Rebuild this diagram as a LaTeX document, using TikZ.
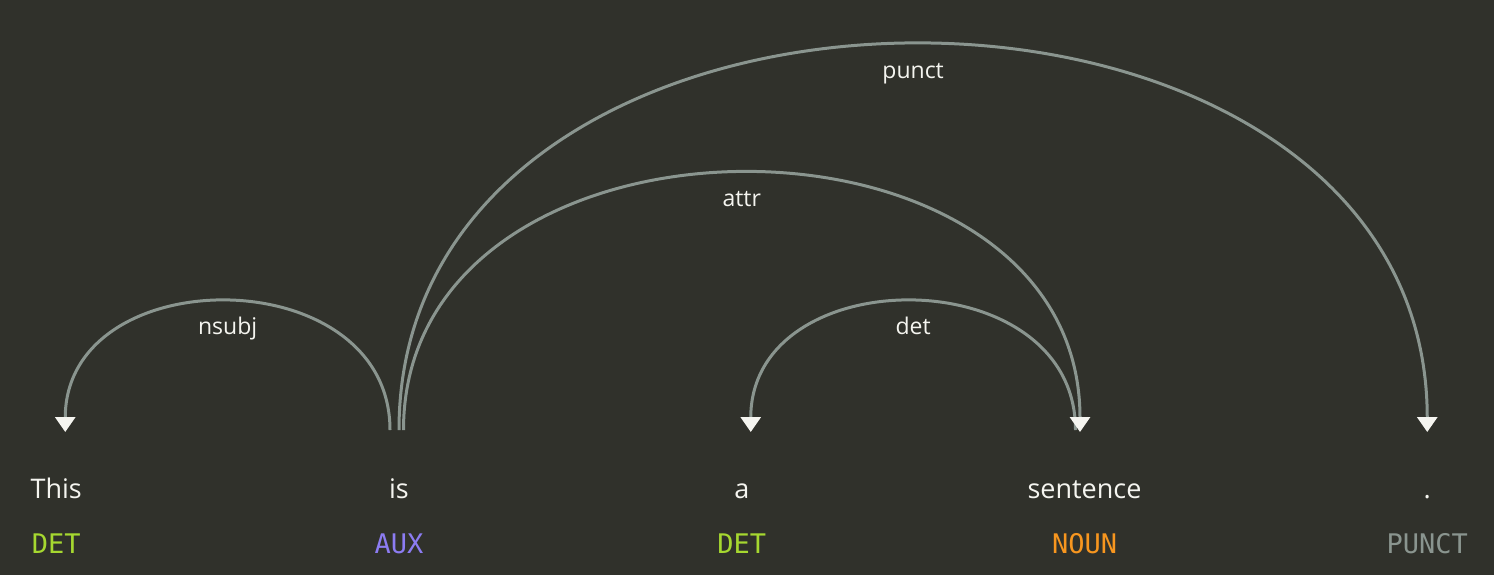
\documentclass[tikz,border=0pt]{standalone}
\usepackage{fontspec}
\setmainfont{Open Sans}
\setmonofont{DejaVu Sans Mono}
\usetikzlibrary{arrows.meta}
\definecolor{bgdark}{HTML}{30312B}
\definecolor{arcgray}{HTML}{8A958F}
\definecolor{inkwhite}{HTML}{F5F5F0}
\definecolor{posdet}{HTML}{A6D830}
\definecolor{posaux}{HTML}{8C7CF2}
\definecolor{posnoun}{HTML}{F7961F}
\definecolor{pospunct}{HTML}{8A958F}
\begin{document}
\begin{tikzpicture}[x=0.5pt,y=-0.5pt,
    word/.style={text=inkwhite,font=\fontsize{13.5}{16}\selectfont,inner sep=0pt,anchor=base},
    postag/.style={font=\ttfamily\fontsize{13.5}{16}\selectfont,inner sep=0pt,anchor=base},
    deplabel/.style={text=inkwhite,font=\fontsize{11.5}{14}\selectfont,inner sep=0pt,anchor=base},
    deparc/.style={draw=arcgray,line width=1.5pt},
    >={Triangle[width=10pt,length=7.5pt,fill=inkwhite,color=inkwhite]}]
        \fill[bgdark] (0,0) rectangle (1494,575);
        \useasboundingbox (0,0) rectangle (1494,575);
        \node[word] (w-this) at (56.25,498) {This};
        \node[word] (w-is) at (399,498) {is};
        \node[word] (w-a) at (741.75,498) {a};
        \node[word] (w-sentence) at (1084.5,498) {sentence};
        \node[word] (w-dot) at (1427.25,498) {.};
        \node[postag,text=posdet] (t-this) at (56.25,553) {DET};
        \node[postag,text=posaux] (t-is) at (399,553) {AUX};
        \node[postag,text=posdet] (t-a) at (741.75,553) {DET};
        \node[postag,text=posnoun] (t-sentence) at (1084.5,553) {NOUN};
        \node[postag,text=pospunct] (t-dot) at (1427.25,553) {PUNCT};
        \coordinate (nsubj-s) at (65.25,432);
        \coordinate (nsubj-e) at (390,430);
        \coordinate (det-s) at (750.75,432);
        \coordinate (det-e) at (1075.5,430);
        \coordinate (attr-s) at (403.5,430);
        \coordinate (attr-e) at (1080,432);
        \coordinate (punct-s) at (399,430);
        \coordinate (punct-e) at (1427.25,432);
        \draw[deparc,<-] (nsubj-s) .. controls +(0,-173.4) and +(0,-171.4) .. (nsubj-e);
        \draw[deparc,<-] (det-s) .. controls +(0,-173.4) and +(0,-171.4) .. (det-e);
        \draw[deparc,->] (attr-s) .. controls +(0,-342.75) and +(0,-344.75) .. (attr-e);
        \draw[deparc,->] (punct-s) .. controls +(0,-514.1) and +(0,-516.1) .. (punct-e);
        \node[deplabel] (l-nsubj) at (227.6,334) {nsubj};
        \node[deplabel] (l-det) at (913.1,334) {det};
        \node[deplabel] (l-attr) at (741.75,206) {attr};
        \node[deplabel] (l-punct) at (913.1,78) {punct};
\end{tikzpicture}
\end{document}
